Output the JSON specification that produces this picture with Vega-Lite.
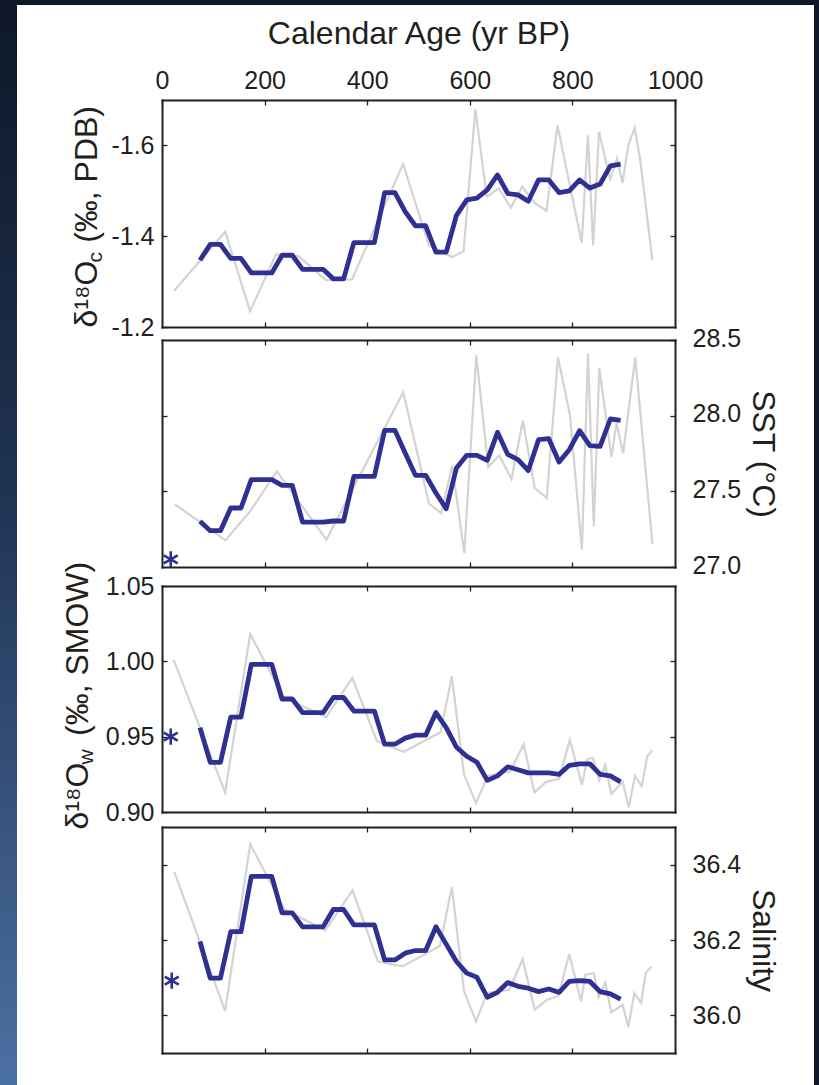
{
  "$schema": "https://vega.github.io/schema/vega-lite/v6.json",
  "background": "#0e1828",
  "padding": {"left": 0, "top": 5, "right": 5, "bottom": 0},
  "spacing": 0,
  "config": {
    "font": "Liberation Sans",
    "view": {"stroke": null},
    "axis": {
      "grid": false,
      "domain": true,
      "domainColor": "#231f20",
      "domainWidth": 2,
      "domainCap": "square",
      "ticks": true,
      "tickColor": "#231f20",
      "tickWidth": 1.3,
      "tickSize": -5,
      "labelFont": "Liberation Sans",
      "labelFontSize": 25,
      "labelColor": "#231f20",
      "labelFlush": false,
      "labelOverlap": false,
      "labelBound": false,
      "titleFont": "Liberation Sans",
      "titleFontSize": 32,
      "titleFontWeight": "normal",
      "titleColor": "#231f20",
      "zindex": 1
    }
  },
  "datasets": {
    "smooth": [
      {"age": 74, "d18Oc": -1.347, "sst": 27.302, "d18Ow": 0.956, "salinity": 36.196},
      {"age": 94, "d18Oc": -1.382, "sst": 27.240, "d18Ow": 0.933, "salinity": 36.099},
      {"age": 114, "d18Oc": -1.382, "sst": 27.240, "d18Ow": 0.933, "salinity": 36.099},
      {"age": 134, "d18Oc": -1.351, "sst": 27.390, "d18Ow": 0.963, "salinity": 36.222},
      {"age": 154, "d18Oc": -1.351, "sst": 27.390, "d18Ow": 0.963, "salinity": 36.222},
      {"age": 174, "d18Oc": -1.319, "sst": 27.577, "d18Ow": 0.998, "salinity": 36.369},
      {"age": 194, "d18Oc": -1.319, "sst": 27.577, "d18Ow": 0.998, "salinity": 36.369},
      {"age": 214, "d18Oc": -1.319, "sst": 27.577, "d18Ow": 0.998, "salinity": 36.369},
      {"age": 234, "d18Oc": -1.358, "sst": 27.540, "d18Ow": 0.975, "salinity": 36.272},
      {"age": 254, "d18Oc": -1.358, "sst": 27.540, "d18Ow": 0.975, "salinity": 36.272},
      {"age": 274, "d18Oc": -1.327, "sst": 27.297, "d18Ow": 0.966, "salinity": 36.235},
      {"age": 294, "d18Oc": -1.327, "sst": 27.297, "d18Ow": 0.966, "salinity": 36.235},
      {"age": 314, "d18Oc": -1.327, "sst": 27.297, "d18Ow": 0.966, "salinity": 36.235},
      {"age": 334, "d18Oc": -1.306, "sst": 27.304, "d18Ow": 0.976, "salinity": 36.281},
      {"age": 354, "d18Oc": -1.306, "sst": 27.304, "d18Ow": 0.976, "salinity": 36.281},
      {"age": 374, "d18Oc": -1.386, "sst": 27.599, "d18Ow": 0.967, "salinity": 36.240},
      {"age": 394, "d18Oc": -1.386, "sst": 27.599, "d18Ow": 0.967, "salinity": 36.240},
      {"age": 414, "d18Oc": -1.386, "sst": 27.599, "d18Ow": 0.967, "salinity": 36.240},
      {"age": 434, "d18Oc": -1.496, "sst": 27.903, "d18Ow": 0.945, "salinity": 36.147},
      {"age": 454, "d18Oc": -1.496, "sst": 27.903, "d18Ow": 0.945, "salinity": 36.147},
      {"age": 474, "d18Oc": -1.454, "sst": 27.753, "d18Ow": 0.949, "salinity": 36.165},
      {"age": 494, "d18Oc": -1.423, "sst": 27.606, "d18Ow": 0.951, "salinity": 36.172},
      {"age": 514, "d18Oc": -1.423, "sst": 27.606, "d18Ow": 0.951, "salinity": 36.172},
      {"age": 534, "d18Oc": -1.365, "sst": 27.489, "d18Ow": 0.966, "salinity": 36.235},
      {"age": 554, "d18Oc": -1.365, "sst": 27.385, "d18Ow": 0.956, "salinity": 36.189},
      {"age": 574, "d18Oc": -1.446, "sst": 27.654, "d18Ow": 0.943, "salinity": 36.143},
      {"age": 594, "d18Oc": -1.480, "sst": 27.738, "d18Ow": 0.937, "salinity": 36.112},
      {"age": 614, "d18Oc": -1.484, "sst": 27.738, "d18Ow": 0.933, "salinity": 36.101},
      {"age": 634, "d18Oc": -1.502, "sst": 27.705, "d18Ow": 0.921, "salinity": 36.048},
      {"age": 654, "d18Oc": -1.535, "sst": 27.890, "d18Ow": 0.924, "salinity": 36.061},
      {"age": 674, "d18Oc": -1.494, "sst": 27.744, "d18Ow": 0.930, "salinity": 36.087},
      {"age": 694, "d18Oc": -1.491, "sst": 27.709, "d18Ow": 0.928, "salinity": 36.077},
      {"age": 714, "d18Oc": -1.477, "sst": 27.637, "d18Ow": 0.926, "salinity": 36.072},
      {"age": 734, "d18Oc": -1.524, "sst": 27.841, "d18Ow": 0.926, "salinity": 36.063},
      {"age": 754, "d18Oc": -1.524, "sst": 27.848, "d18Ow": 0.926, "salinity": 36.070},
      {"age": 774, "d18Oc": -1.496, "sst": 27.694, "d18Ow": 0.925, "salinity": 36.061},
      {"age": 794, "d18Oc": -1.500, "sst": 27.775, "d18Ow": 0.931, "salinity": 36.090},
      {"age": 814, "d18Oc": -1.524, "sst": 27.901, "d18Ow": 0.932, "salinity": 36.092},
      {"age": 834, "d18Oc": -1.506, "sst": 27.802, "d18Ow": 0.932, "salinity": 36.090},
      {"age": 854, "d18Oc": -1.515, "sst": 27.797, "d18Ow": 0.925, "salinity": 36.063},
      {"age": 874, "d18Oc": -1.555, "sst": 27.978, "d18Ow": 0.924, "salinity": 36.057},
      {"age": 894, "d18Oc": -1.559, "sst": 27.969, "d18Ow": 0.920, "salinity": 36.043}
    ],
    "d18Oc_raw": [
      {"age": 23.6, "value": -1.280}, {"age": 123.2, "value": -1.410}, {"age": 171.7, "value": -1.235},
      {"age": 222.2, "value": -1.360}, {"age": 266, "value": -1.356}, {"age": 319.9, "value": -1.303},
      {"age": 370.4, "value": -1.305}, {"age": 470, "value": -1.559}, {"age": 520.5, "value": -1.379},
      {"age": 565.7, "value": -1.354}, {"age": 587.9, "value": -1.367}, {"age": 610.8, "value": -1.680},
      {"age": 633, "value": -1.487}, {"age": 656.6, "value": -1.505}, {"age": 680.1, "value": -1.463},
      {"age": 702.4, "value": -1.509}, {"age": 726.5, "value": -1.473}, {"age": 749.5, "value": -1.456},
      {"age": 771, "value": -1.644}, {"age": 818.2, "value": -1.385}, {"age": 830.3, "value": -1.622},
      {"age": 840.4, "value": -1.380}, {"age": 851.9, "value": -1.630}, {"age": 873.5, "value": -1.526},
      {"age": 887, "value": -1.571}, {"age": 897.6, "value": -1.517}, {"age": 909, "value": -1.600},
      {"age": 921.5, "value": -1.639}, {"age": 932, "value": -1.569}, {"age": 956, "value": -1.347}
    ],
    "sst_raw": [
      {"age": 24.7, "value": 27.416}, {"age": 123.6, "value": 27.176}, {"age": 171.7, "value": 27.368},
      {"age": 223.8, "value": 27.632}, {"age": 320.6, "value": 27.181}, {"age": 470.3, "value": 28.156},
      {"age": 520.4, "value": 27.419}, {"age": 544.4, "value": 27.357}, {"age": 565.8, "value": 27.670},
      {"age": 589.2, "value": 27.093}, {"age": 612.6, "value": 28.399}, {"age": 635.9, "value": 27.661},
      {"age": 657.3, "value": 27.738}, {"age": 681.4, "value": 27.581}, {"age": 703.5, "value": 27.968},
      {"age": 726.5, "value": 27.522}, {"age": 750, "value": 27.456}, {"age": 772, "value": 28.387},
      {"age": 795.5, "value": 27.997}, {"age": 818.5, "value": 27.115}, {"age": 830.5, "value": 28.410},
      {"age": 841.7, "value": 27.270}, {"age": 852.5, "value": 28.315}, {"age": 876, "value": 27.726},
      {"age": 886, "value": 27.950}, {"age": 899, "value": 27.754}, {"age": 922.5, "value": 28.383},
      {"age": 956, "value": 27.153}
    ],
    "d18Ow_raw": [
      {"age": 22.7, "value": 1.001}, {"age": 123, "value": 0.913}, {"age": 172, "value": 1.018},
      {"age": 237.5, "value": 0.976}, {"age": 320, "value": 0.963}, {"age": 371, "value": 0.989},
      {"age": 419, "value": 0.947}, {"age": 471, "value": 0.940}, {"age": 543, "value": 0.953},
      {"age": 565, "value": 0.990}, {"age": 588.6, "value": 0.925}, {"age": 612, "value": 0.906},
      {"age": 635.5, "value": 0.924}, {"age": 679, "value": 0.927}, {"age": 705, "value": 0.945},
      {"age": 726, "value": 0.913}, {"age": 749, "value": 0.920}, {"age": 774, "value": 0.922},
      {"age": 795, "value": 0.948}, {"age": 818.5, "value": 0.918}, {"age": 829, "value": 0.935},
      {"age": 840, "value": 0.936}, {"age": 852, "value": 0.921}, {"age": 864, "value": 0.931},
      {"age": 876, "value": 0.912}, {"age": 898, "value": 0.920}, {"age": 910, "value": 0.903},
      {"age": 922, "value": 0.924}, {"age": 935, "value": 0.917}, {"age": 946, "value": 0.937},
      {"age": 956, "value": 0.941}
    ],
    "salinity_raw": [
      {"age": 24, "value": 36.381}, {"age": 123, "value": 36.012}, {"age": 172, "value": 36.454},
      {"age": 239, "value": 36.281}, {"age": 318, "value": 36.226}, {"age": 371.6, "value": 36.332},
      {"age": 420.7, "value": 36.143}, {"age": 469, "value": 36.130}, {"age": 541.7, "value": 36.184},
      {"age": 565, "value": 36.341}, {"age": 588.7, "value": 36.064}, {"age": 612, "value": 35.984},
      {"age": 633.7, "value": 36.059}, {"age": 677, "value": 36.068}, {"age": 703, "value": 36.149},
      {"age": 726.5, "value": 36.015}, {"age": 750, "value": 36.041}, {"age": 773, "value": 36.052},
      {"age": 793.7, "value": 36.163}, {"age": 817, "value": 36.037}, {"age": 825, "value": 36.108},
      {"age": 842, "value": 36.112}, {"age": 851, "value": 36.048}, {"age": 864, "value": 36.087},
      {"age": 875.7, "value": 36.008}, {"age": 898, "value": 36.028}, {"age": 909, "value": 35.969},
      {"age": 920.7, "value": 36.059}, {"age": 934, "value": 36.033}, {"age": 943, "value": 36.112},
      {"age": 954, "value": 36.130}
    ],
    "modern": [
      {"panel": "sst", "age": 17, "value": 27.05},
      {"panel": "d18Ow", "age": 17, "value": 0.950},
      {"panel": "salinity", "age": 19, "value": 36.092}
    ]
  },
  "hconcat": [
    {
      "width": 17,
      "height": 1080,
      "view": {
        "stroke": null,
        "fill": {
          "gradient": "linear",
          "x1": 0, "y1": 0, "x2": 0, "y2": 1,
          "stops": [
            {"offset": 0, "color": "#0e1828"},
            {"offset": 0.45, "color": "#1f3352"},
            {"offset": 1, "color": "#4b70a2"}
          ]
        }
      },
      "data": {"values": [{}]},
      "mark": {"type": "point", "opacity": 0},
      "encoding": {}
    },
    {
      "width": 797,
      "height": 1080,
      "view": {"fill": "#ffffff", "stroke": null},
      "resolve": {
        "scale": {"y": "independent"},
        "axis": {"x": "independent", "y": "independent"}
      },
      "layer": [
        {
          "data": {"name": "d18Oc_raw"},
          "mark": {"type": "line", "color": "#d3d3d3", "strokeWidth": 2.2},
          "encoding": {
            "x": {
              "field": "age", "type": "quantitative",
              "scale": {"domain": [0, 1000], "range": [145, 658], "nice": false, "zero": false},
              "axis": {
                "orient": "top", "offset": -95, "values": [0, 200, 400, 600, 800, 1000], "format": "d",
                "labelPadding": 12,
                "title": "Calendar Age (yr BP)", "titleX": 401.5, "titleY": -57,
                "titleAngle": 0, "titleAlign": "center", "titleBaseline": "alphabetic"
              }
            },
            "y": {
              "field": "value", "type": "quantitative",
              "scale": {"domain": [-1.7, -1.2], "range": [95, 322], "nice": false, "zero": false},
              "axis": {
                "orient": "left", "offset": -145, "values": [-1.6, -1.4, -1.2], "format": ".1f",
                "labelExpr": "replace(datum.label, '\u2212', '-')",
                "labelPadding": 13,
                "title": "δ¹⁸O\u00a0\u00a0(‰, PDB)", "titleAngle": 270, "titleAlign": "left",
                "titleBaseline": "alphabetic", "titleX": -66, "titleY": 322
              }
            }
          }
        },
        {
          "data": {"name": "smooth"},
          "mark": {"type": "line", "color": "#2e3192", "strokeWidth": 4.8, "strokeJoin": "round"},
          "encoding": {
            "x": {
              "field": "age", "type": "quantitative",
              "scale": {"domain": [0, 1000], "range": [145, 658], "nice": false, "zero": false},
              "axis": {"orient": "bottom", "offset": -758, "values": [200, 400, 600, 800], "labels": false, "title": null}
            },
            "y": {
              "field": "d18Oc", "type": "quantitative",
              "scale": {"domain": [-1.7, -1.2], "range": [95, 322], "nice": false, "zero": false},
              "axis": {
                "orient": "right", "offset": -139, "values": [-1.6, -1.4], "labels": false,
                "title": "c", "titleFontSize": 21, "titleAngle": 270, "titleAlign": "left",
                "titleBaseline": "alphabetic", "titleX": -574, "titleY": 257
              }
            }
          }
        },
        {
          "data": {"name": "sst_raw"},
          "mark": {"type": "line", "color": "#d3d3d3", "strokeWidth": 2.2},
          "encoding": {
            "x": {
              "field": "age", "type": "quantitative",
              "scale": {"domain": [0, 1000], "range": [145, 658], "nice": false, "zero": false},
              "axis": {"orient": "top", "offset": -335, "values": [200, 400, 600, 800], "labels": false, "title": null}
            },
            "y": {
              "field": "value", "type": "quantitative",
              "scale": {"domain": [27, 28.5], "range": [562, 335], "nice": false, "zero": false},
              "axis": {"orient": "left", "offset": -145, "values": [27.5, 28.0], "labels": false, "title": null}
            }
          }
        },
        {
          "data": {"name": "smooth"},
          "mark": {"type": "line", "color": "#2e3192", "strokeWidth": 4.8, "strokeJoin": "round"},
          "encoding": {
            "x": {
              "field": "age", "type": "quantitative",
              "scale": {"domain": [0, 1000], "range": [145, 658], "nice": false, "zero": false},
              "axis": {"orient": "bottom", "offset": -518, "values": [200, 400, 600, 800], "labels": false, "title": null}
            },
            "y": {
              "field": "sst", "type": "quantitative",
              "scale": {"domain": [27, 28.5], "range": [562, 335], "nice": false, "zero": false},
              "axis": {
                "orient": "right", "offset": -139, "values": [27.0, 27.5, 28.0, 28.5], "format": ".1f",
                "labelPadding": 22, "labelOffset": -2,
                "title": "SST (°C)", "titleAngle": 90, "titleAlign": "center",
                "titleBaseline": "alphabetic", "titleX": 77, "titleY": 448.5
              }
            }
          }
        },
        {
          "data": {"name": "modern"},
          "transform": [{"filter": "datum.panel == 'sst'"}],
          "mark": {
            "type": "point", "filled": false, "color": "#2e3192", "strokeWidth": 2.6, "size": 260, "opacity": 1,
            "shape": "M0,-1L0,1M-0.866,-0.5L0.866,0.5M-0.866,0.5L0.866,-0.5"
          },
          "encoding": {
            "x": {"field": "age", "type": "quantitative", "scale": {"domain": [0, 1000], "range": [145, 658], "nice": false, "zero": false}, "axis": null},
            "y": {"field": "value", "type": "quantitative", "scale": {"domain": [27, 28.5], "range": [562, 335], "nice": false, "zero": false}, "axis": null}
          }
        },
        {
          "data": {"name": "d18Ow_raw"},
          "mark": {"type": "line", "color": "#d3d3d3", "strokeWidth": 2.2},
          "encoding": {
            "x": {
              "field": "age", "type": "quantitative",
              "scale": {"domain": [0, 1000], "range": [145, 658], "nice": false, "zero": false},
              "axis": {"orient": "top", "offset": -581, "values": [200, 400, 600, 800], "labels": false, "title": null}
            },
            "y": {
              "field": "value", "type": "quantitative",
              "scale": {"domain": [0.9, 1.05], "range": [807, 581], "nice": false, "zero": false},
              "axis": {
                "orient": "left", "offset": -145, "values": [0.90, 0.95, 1.00, 1.05], "format": ".2f",
                "labelPadding": 13,
                "title": "δ¹⁸O\u00a0\u00a0\u00a0(‰, SMOW)", "titleAngle": 270, "titleAlign": "left",
                "titleBaseline": "alphabetic", "titleX": -75, "titleY": 824
              }
            }
          }
        },
        {
          "data": {"name": "smooth"},
          "mark": {"type": "line", "color": "#2e3192", "strokeWidth": 4.8, "strokeJoin": "round"},
          "encoding": {
            "x": {
              "field": "age", "type": "quantitative",
              "scale": {"domain": [0, 1000], "range": [145, 658], "nice": false, "zero": false},
              "axis": {"orient": "bottom", "offset": -273, "values": [200, 400, 600, 800], "labels": false, "title": null}
            },
            "y": {
              "field": "d18Ow", "type": "quantitative",
              "scale": {"domain": [0.9, 1.05], "range": [807, 581], "nice": false, "zero": false},
              "axis": {
                "orient": "right", "offset": -139, "values": [0.95, 1.00], "labels": false,
                "title": "w", "titleFontSize": 21, "titleAngle": 270, "titleAlign": "left",
                "titleBaseline": "alphabetic", "titleX": -583, "titleY": 759
              }
            }
          }
        },
        {
          "data": {"name": "modern"},
          "transform": [{"filter": "datum.panel == 'd18Ow'"}],
          "mark": {
            "type": "point", "filled": false, "color": "#2e3192", "strokeWidth": 2.6, "size": 260, "opacity": 1,
            "shape": "M0,-1L0,1M-0.866,-0.5L0.866,0.5M-0.866,0.5L0.866,-0.5"
          },
          "encoding": {
            "x": {"field": "age", "type": "quantitative", "scale": {"domain": [0, 1000], "range": [145, 658], "nice": false, "zero": false}, "axis": null},
            "y": {"field": "value", "type": "quantitative", "scale": {"domain": [0.9, 1.05], "range": [807, 581], "nice": false, "zero": false}, "axis": null}
          }
        },
        {
          "data": {"name": "salinity_raw"},
          "mark": {"type": "line", "color": "#d3d3d3", "strokeWidth": 2.2},
          "encoding": {
            "x": {
              "field": "age", "type": "quantitative",
              "scale": {"domain": [0, 1000], "range": [145, 658], "nice": false, "zero": false},
              "axis": {"orient": "top", "offset": -822, "values": [200, 400, 600, 800], "labels": false, "title": null}
            },
            "y": {
              "field": "value", "type": "quantitative",
              "scale": {"domain": [35.9, 36.5], "range": [1048, 822], "nice": false, "zero": false},
              "axis": {"orient": "left", "offset": -145, "values": [36.0, 36.2, 36.4], "labels": false, "title": null}
            }
          }
        },
        {
          "data": {"name": "smooth"},
          "mark": {"type": "line", "color": "#2e3192", "strokeWidth": 4.8, "strokeJoin": "round"},
          "encoding": {
            "x": {
              "field": "age", "type": "quantitative",
              "scale": {"domain": [0, 1000], "range": [145, 658], "nice": false, "zero": false},
              "axis": {"orient": "bottom", "offset": -32, "values": [200, 400, 600, 800], "labels": false, "title": null}
            },
            "y": {
              "field": "salinity", "type": "quantitative",
              "scale": {"domain": [35.9, 36.5], "range": [1048, 822], "nice": false, "zero": false},
              "axis": {
                "orient": "right", "offset": -139, "values": [36.0, 36.2, 36.4], "format": ".1f",
                "labelPadding": 22,
                "title": "Salinity", "titleAngle": 90, "titleAlign": "center",
                "titleBaseline": "alphabetic", "titleX": 77, "titleY": 935
              }
            }
          }
        },
        {
          "data": {"name": "modern"},
          "transform": [{"filter": "datum.panel == 'salinity'"}],
          "mark": {
            "type": "point", "filled": false, "color": "#2e3192", "strokeWidth": 2.6, "size": 260, "opacity": 1,
            "shape": "M0,-1L0,1M-0.866,-0.5L0.866,0.5M-0.866,0.5L0.866,-0.5"
          },
          "encoding": {
            "x": {"field": "age", "type": "quantitative", "scale": {"domain": [0, 1000], "range": [145, 658], "nice": false, "zero": false}, "axis": null},
            "y": {"field": "value", "type": "quantitative", "scale": {"domain": [35.9, 36.5], "range": [1048, 822], "nice": false, "zero": false}, "axis": null}
          }
        }
      ]
    }
  ]
}
